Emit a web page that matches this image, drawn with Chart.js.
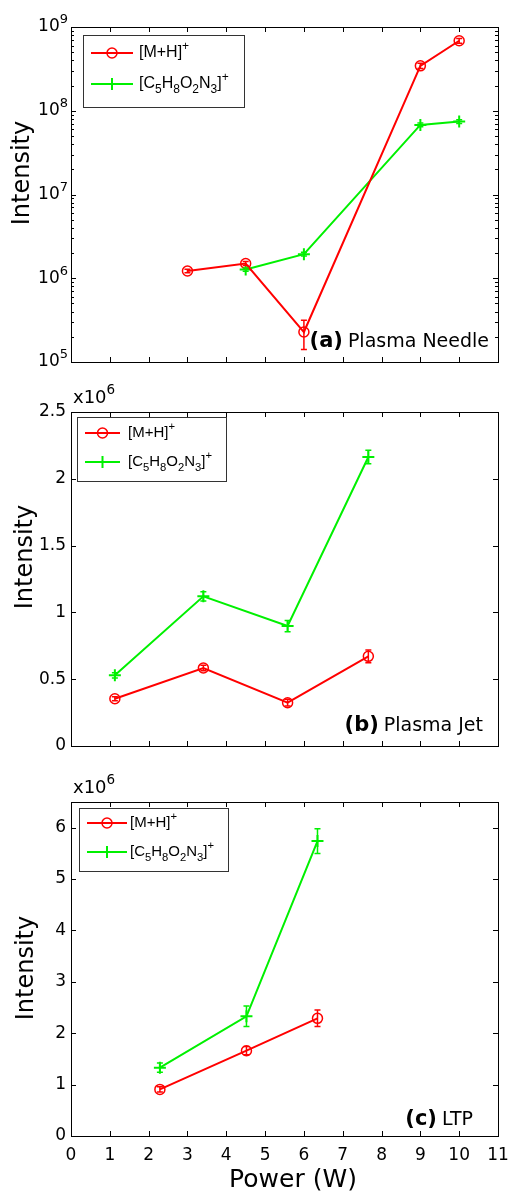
<!DOCTYPE html>
<html>
<head>
<meta charset="utf-8">
<script src="https://cdn.jsdelivr.net/npm/chart.js@4.4.1/dist/chart.umd.min.js"></script>
<style>
  body { margin: 0; background: #fff; }
  .panel { position: absolute; left: 0; width: 509px; }
</style>
</head>
<body>
<div class="panel" style="top:0;height:370px"><canvas id="chartA" width="509" height="370"></canvas></div>
<div class="panel" style="top:370px;height:400px"><canvas id="chartB" width="509" height="400"></canvas></div>
<div class="panel" style="top:770px;height:423px"><canvas id="chartC" width="509" height="423"></canvas></div>
<script>
// shared x axis (Power, W)
const powerTicks = [0, 1, 2, 3, 4, 5, 6, 7, 8, 9, 10, 11];
const labelMH = '[M+H]+';
const labelC = '[C5H8O2N3]+';

// (a) Plasma Needle - log scale
const needleMHPower = [3.0, 4.5, 6.0, 9.0, 10.0];
const needleMH = [1.22e6, 1.50e6, 2.28e5, 3.44e8, 6.85e8];
const needleMHErr = [0.06e6, 0.08e6, 0.87e5, 0.25e8, 0.45e8];
const needleCPower = [4.5, 6.0, 9.0, 10.0];
const needleC = [1.27e6, 1.94e6, 6.78e7, 7.43e7];
const needleCErr = [0.06e6, 0.1e6, 0.35e7, 0.4e7];
const needleTicks = [1e5, 1e6, 1e7, 1e8, 1e9];

// (b) Plasma Jet - x10^6
const jetPower = [1.13, 3.41, 5.58, 7.66];
const jetMH = [0.354, 0.584, 0.324, 0.671];
const jetMHErr = [0.015, 0.02, 0.025, 0.047];
const jetC = [0.529, 1.12, 0.898, 2.163];
const jetCErr = [0.02, 0.035, 0.042, 0.05];
const jetTicks = [0, 0.5, 1, 1.5, 2, 2.5];

// (c) LTP - x10^6
const ltpPower = [2.29, 4.52, 6.35];
const ltpMH = [0.907, 1.66, 2.29];
const ltpMHErr = [0.05, 0.08, 0.16];
const ltpC = [1.33, 2.33, 5.74];
const ltpCErr = [0.09, 0.2, 0.24];
const ltpTicks = [0, 1, 2, 3, 4, 5, 6];

const RED = '#ff0000';
const GREEN = '#00f000';
const FONT = '"DejaVu Sans", Verdana, sans-serif';
const LEGEND_FONT = '"Liberation Sans", Arial, sans-serif';

// split a formula like [C5H8O2N3]+ into normal / sub / sup pieces
function chemSegments(text) {
  const segs = [];
  for (let i = 0; i < text.length; i++) {
    const ch = text[i];
    let kind = 'n';
    if (/\d/.test(ch) && i > 0 && /[A-Za-z]/.test(text[i - 1])) kind = 'sub';
    if (ch === '+' && text[i - 1] === ']') kind = 'sup';
    segs.push([ch, kind]);
  }
  return segs;
}

function drawRich(ctx, segs, x, y, size, family) {
  ctx.fillStyle = '#000';
  ctx.textAlign = 'left';
  ctx.textBaseline = 'middle';
  segs.forEach(([t, kind]) => {
    let s = size, dy = 0;
    if (kind === 'sub') { s = size * 0.75; dy = size * 0.38; }
    if (kind === 'sup') { s = size * 0.75; dy = -size * 0.42; }
    ctx.font = s + 'px ' + (family || FONT);
    ctx.fillText(t, x, y + dy);
    x += ctx.measureText(t).width;
  });
}

function drawMarker(ctx, style, x, y, color) {
  ctx.strokeStyle = color;
  ctx.lineWidth = style === 'circle' ? 1.5 : 2;
  ctx.beginPath();
  if (style === 'circle') {
    ctx.arc(x, y, 5, 0, Math.PI * 2);
  } else {
    ctx.moveTo(x - 6, y); ctx.lineTo(x + 6, y);
    ctx.moveTo(x, y - 6); ctx.lineTo(x, y + 6);
  }
  ctx.stroke();
}

// frame, inward ticks, error bars, legend, labels
const panelPlugin = {
  id: 'panel',
  afterDatasetsDraw(chart) {
    const ctx = chart.ctx;
    const yScale = chart.scales.y;
    ctx.save();
    chart.data.datasets.forEach((ds, di) => {
      const meta = chart.getDatasetMeta(di);
      ctx.strokeStyle = ds.borderColor;
      ctx.lineWidth = 1.5;
      meta.data.forEach((pt, i) => {
        const v = ds.data[i].y, e = ds.errors[i];
        const y1 = yScale.getPixelForValue(v + e);
        const y2 = yScale.getPixelForValue(v - e);
        ctx.beginPath();
        ctx.moveTo(pt.x, y1); ctx.lineTo(pt.x, y2);
        ctx.moveTo(pt.x - 3, y1); ctx.lineTo(pt.x + 3, y1);
        ctx.moveTo(pt.x - 3, y2); ctx.lineTo(pt.x + 3, y2);
        ctx.stroke();
      });
    });
    ctx.restore();
  },
  afterDraw(chart, args, opts) {
    const ctx = chart.ctx;
    const { left, right, top, bottom } = chart.chartArea;
    const xs = chart.scales.x, ys = chart.scales.y;
    ctx.save();
    ctx.strokeStyle = '#000';
    ctx.lineWidth = 1;
    ctx.strokeRect(Math.round(left) + 0.5, Math.round(top) + 0.5, Math.round(right - left), Math.round(bottom - top));

    ctx.beginPath();
    xs.ticks.forEach(t => {
      const px = Math.round(xs.getPixelForValue(t.value)) + 0.5;
      ctx.moveTo(px, bottom); ctx.lineTo(px, bottom - 5);
      ctx.moveTo(px, top); ctx.lineTo(px, top + 5);
    });
    ys.ticks.forEach(t => {
      const py = Math.round(ys.getPixelForValue(t.value)) + 0.5;
      ctx.moveTo(left, py); ctx.lineTo(left + 5, py);
      ctx.moveTo(right, py); ctx.lineTo(right - 5, py);
    });
    if (opts.log) {
      for (let d = 5; d < 9; d++) {
        for (let m = 2; m < 10; m++) {
          const py = Math.round(ys.getPixelForValue(m * Math.pow(10, d))) + 0.5;
          ctx.moveTo(left, py); ctx.lineTo(left + 3, py);
          ctx.moveTo(right, py); ctx.lineTo(right - 3, py);
        }
      }
    }
    ctx.stroke();

    // log tick labels 10^n
    if (opts.log) {
      ys.ticks.forEach(t => {
        const py = ys.getPixelForValue(t.value);
        const exp = String(Math.round(Math.log10(t.value)));
        ctx.font = '13px ' + FONT;
        const ew = ctx.measureText(exp).width;
        ctx.font = '17px ' + FONT;
        ctx.fillStyle = '#000';
        ctx.textAlign = 'right';
        ctx.textBaseline = 'middle';
        const xr = left - 3 - ew;
        ctx.fillText('10', xr, py);
        ctx.font = '13px ' + FONT;
        ctx.textAlign = 'left';
        ctx.fillText(exp, xr, py - 7);
      });
    }

    // x10^6 multiplier
    if (opts.multiplier) {
      drawRich(ctx, [['x10', 'n'], ['6', 'sup']], left + 2, opts.multiplier, 18);
    }

    // y title
    ctx.save();
    ctx.translate(opts.yTitle[0], opts.yTitle[1]);
    ctx.rotate(-Math.PI / 2);
    ctx.font = '24px ' + FONT;
    ctx.fillStyle = '#000';
    ctx.textAlign = 'center';
    ctx.textBaseline = 'middle';
    ctx.fillText('Intensity', 0, 0);
    ctx.restore();

    if (opts.xTitle) {
      ctx.font = '25px ' + FONT;
      ctx.fillStyle = '#000';
      ctx.textAlign = 'center';
      ctx.textBaseline = 'middle';
      ctx.fillText('Power (W)', opts.xTitle[0], opts.xTitle[1]);
    }

    // panel tag, e.g. (a) Plasma Needle
    ctx.textBaseline = 'middle';
    ctx.textAlign = 'right';
    ctx.fillStyle = '#000';
    ctx.font = '19px ' + FONT;
    const nw = ctx.measureText(opts.name).width;
    ctx.fillText(opts.name, opts.tagPos[0], opts.tagPos[1]);
    ctx.font = 'bold 21px ' + FONT;
    ctx.fillText(opts.tag, opts.tagPos[0] - nw - 5, opts.tagPos[1]);

    // legend box
    const lg = opts.legend;
    ctx.fillStyle = '#fff';
    ctx.fillRect(lg.x, lg.y, lg.w, lg.h);
    ctx.strokeStyle = '#333';
    ctx.lineWidth = 1;
    ctx.strokeRect(lg.x + 0.5, lg.y + 0.5, lg.w, lg.h);
    chart.data.datasets.forEach((ds, i) => {
      const ry = lg.rows[i];
      ctx.strokeStyle = ds.borderColor;
      ctx.lineWidth = 2;
      ctx.beginPath();
      ctx.moveTo(lg.line[0], ry); ctx.lineTo(lg.line[1], ry);
      ctx.stroke();
      drawMarker(ctx, ds.pointStyle, (lg.line[0] + lg.line[1]) / 2, ry, ds.borderColor);
      drawRich(ctx, chemSegments(ds.label), lg.text, ry, lg.font, LEGEND_FONT);
    });
    ctx.restore();
  }
};

function dataset(label, xs, ys, errs, color, style) {
  return {
    label: label,
    data: xs.map((x, i) => ({ x: x, y: ys[i] })),
    errors: errs,
    borderColor: color,
    backgroundColor: 'rgba(0,0,0,0)',
    borderWidth: 2,
    pointStyle: style,
    pointRadius: style === 'circle' ? 5 : 6,
    pointBorderWidth: style === 'circle' ? 1.5 : 2,
    pointBackgroundColor: 'rgba(0,0,0,0)',
    tension: 0
  };
}

function makePanel(id, p) {
  new Chart(document.getElementById(id), {
    type: 'line',
    data: {
      datasets: [
        dataset(labelMH, p.mhX, p.mh, p.mhErr, RED, 'circle'),
        dataset(labelC, p.cX, p.c, p.cErr, GREEN, 'cross')
      ]
    },
    options: {
      responsive: false,
      animation: false,
      layout: { padding: { top: p.top, right: 11, left: 0, bottom: 0 } },
      scales: {
        x: {
          type: 'linear',
          min: 0,
          max: 11,
          afterBuildTicks: s => { s.ticks = powerTicks.map(v => ({ value: v })); },
          afterFit: s => { s.height = p.xHeight; s.paddingLeft = 0; s.paddingRight = 0; },
          grid: { display: false, drawTicks: false },
          border: { display: false },
          ticks: { display: p.showX, color: '#000', padding: 9, maxRotation: 0, autoSkip: false, font: { family: FONT, size: 17 } }
        },
        y: {
          type: p.log ? 'logarithmic' : 'linear',
          min: p.yTicks[0],
          max: p.yMax,
          afterBuildTicks: s => { s.ticks = p.yTicks.map(v => ({ value: v })); },
          afterFit: s => { s.width = 71; },
          grid: { display: false, drawTicks: false },
          border: { display: false },
          ticks: {
            display: !p.log, color: '#000', padding: 5, font: { family: FONT, size: 17 },
            callback: v => String(v)
          }
        }
      },
      plugins: {
        legend: { display: false },
        tooltip: { enabled: false },
        panel: p.deco
      }
    },
    plugins: [panelPlugin]
  });
}

makePanel('chartA', {
  mhX: needleMHPower, mh: needleMH, mhErr: needleMHErr,
  cX: needleCPower, c: needleC, cErr: needleCErr,
  log: true, yTicks: needleTicks, yMax: 1e9,
  top: 27, xHeight: 8, showX: false,
  deco: {
    log: true, tag: '(a)', name: 'Plasma Needle', tagPos: [489, 342],
    yTitle: [23, 173],
    legend: { x: 83, y: 35, w: 161, h: 72, rows: [53, 84], line: [91, 133], text: 139, font: 16 }
  }
});

makePanel('chartB', {
  mhX: jetPower, mh: jetMH, mhErr: jetMHErr,
  cX: jetPower, c: jetC, cErr: jetCErr,
  log: false, yTicks: jetTicks, yMax: 2.5,
  top: 42, xHeight: 24, showX: false,
  deco: {
    tag: '(b)', name: 'Plasma Jet', tagPos: [483, 356],
    multiplier: 28, yTitle: [26, 187],
    legend: { x: 77, y: 47, w: 149, h: 64, rows: [63, 92], line: [85, 120], text: 128, font: 15 }
  }
});

makePanel('chartC', {
  mhX: ltpPower, mh: ltpMH, mhErr: ltpMHErr,
  cX: ltpPower, c: ltpC, cErr: ltpCErr,
  log: false, yTicks: ltpTicks, yMax: 6.5,
  top: 32, xHeight: 57, showX: true,
  deco: {
    tag: '(c)', name: 'LTP', tagPos: [473, 350],
    multiplier: 18, yTitle: [27, 198], xTitle: [293, 410],
    legend: { x: 79, y: 38, w: 149, h: 63, rows: [53, 82], line: [87, 127], text: 130, font: 15 }
  }
});
</script>
</body>
</html>
